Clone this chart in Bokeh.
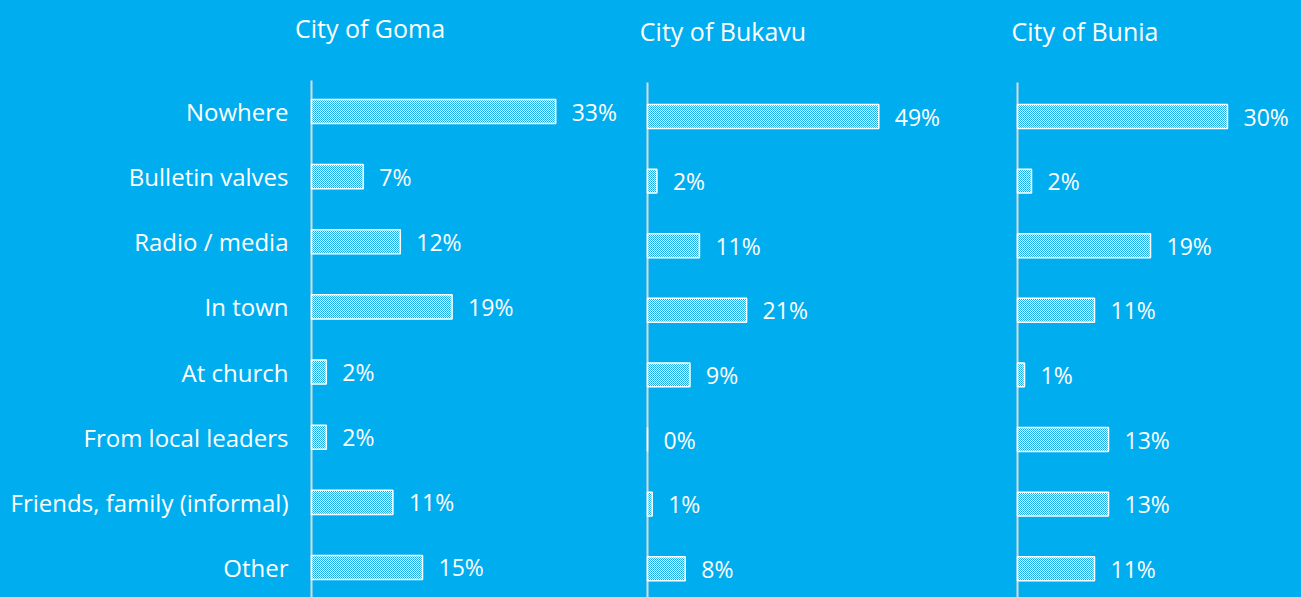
from bokeh.plotting import figure
from bokeh.layouts import row
from bokeh.models import Range1d
from bokeh.core.properties import value
from bokeh.embed import file_html
from bokeh.resources import INLINE

# ---- data ----
categories = ["Nowhere", "Bulletin valves", "Radio / media", "In town", "At church",
              "From local leaders", "Friends, family (informal)", "Other"]
cities = ["City of Goma", "City of Bukavu", "City of Bunia"]
goma = [33, 7, 12, 19, 2, 2, 11, 15]
bukavu = [49, 2, 11, 21, 9, 0, 1, 8]
bunia = [30, 2, 19, 11, 1, 13, 13, 11]

# ---- style ----
BG = "#00AEEF"
FONT = value("Open Sans")
AXIS_COL = "#D9D9D9"
H = 597


def panel(title, vals, width, x0px, ppu, row0, rowsp, title_cx, title_py, axis_py, with_labels):
    xs, xe = -x0px / ppu, (width - x0px) / ppu
    ytop = row0 / rowsp
    ybot = ytop - H / rowsp
    p = figure(width=width, height=H, x_range=Range1d(xs, xe), y_range=Range1d(ybot, ytop),
               output_backend="svg", toolbar_location=None,
               x_axis_location=None, y_axis_location=None,
               min_border_left=0, min_border_right=0, min_border_top=0, min_border_bottom=0,
               background_fill_color=BG, border_fill_color=BG, outline_line_color=None)
    p.grid.visible = False
    ys = [-i for i in range(len(categories))]
    if with_labels:
        p.text(x=[0] * len(categories), y=ys, text=categories, x_offset=-23,
               text_baseline="middle", text_align="right", text_font=FONT,
               text_font_size="24px", text_color="white")
    # vertical axis line
    p.segment(x0=[0], x1=[0], y0=[ybot], y1=[ytop - axis_py / rowsp],
              line_color=AXIS_COL, line_width=2)
    p.hbar(y=ys, left=0, right=vals, height=0.37, fill_color="white", fill_alpha=1.0,
           hatch_pattern="diagonal_cross", hatch_color=BG, hatch_scale=2, hatch_weight=1,
           line_color="white", line_width=1.5)
    p.text(x=vals, y=ys, text=[f"{v}%" for v in vals], x_offset=16,
           text_baseline="middle", text_align="left", text_font=FONT,
           text_font_size="23px", text_color="white")
    p.text(x=[(title_cx - x0px) / ppu], y=[ytop - title_py / rowsp], text=[title],
           text_baseline="middle", text_align="center", text_font=FONT,
           text_font_size="25px", text_color="white")
    return p


p1 = panel(cities[0], goma, 640, 311, 7.4, 111, 65.14, 369.5, 27, 80, True)
p2 = panel(cities[1], bukavu, 370, 7, 4.72, 116, 64.6, 722.5 - 640, 30, 82, False)
p3 = panel(cities[2], bunia, 291, 7, 7.0, 116, 64.6, 1084.5 - 1010, 30, 82, False)

layout = row(p1, p2, p3, spacing=0, styles={"background-color": BG})
p = layout
open("out.html", "w").write(file_html(p, INLINE))
